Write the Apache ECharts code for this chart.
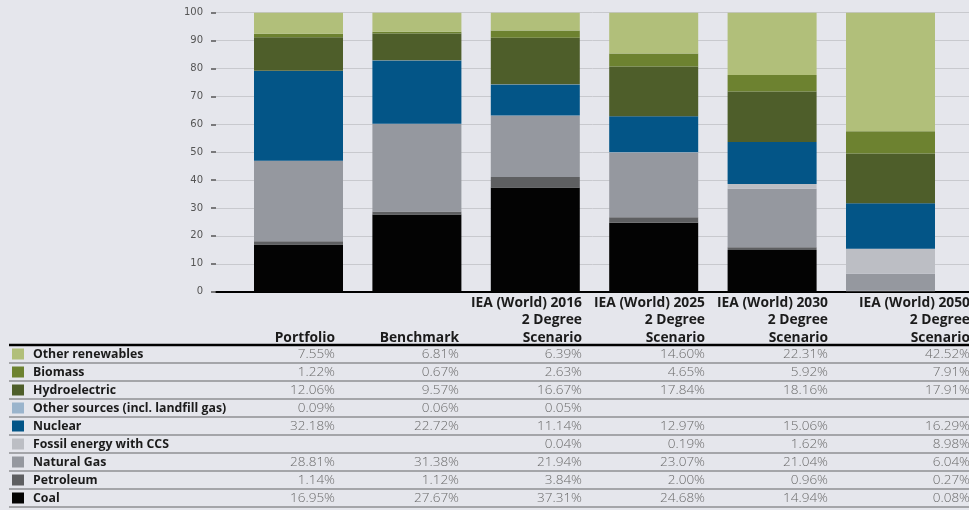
<!DOCTYPE html>
<html>
<head>
<meta charset="utf-8">
<script src="https://cdn.jsdelivr.net/npm/echarts@6/dist/echarts.min.js"></script>
<style>
html,body{margin:0;padding:0;background:#e5e6ec;}
#chart{width:969px;height:510px;}
</style>
</head>
<body>
<div id="chart"></div>
<script>
// ---- Data ----
const categories = ['Portfolio', 'Benchmark', 'IEA (World) 2016\n2 Degree\nScenario', 'IEA (World) 2025\n2 Degree\nScenario', 'IEA (World) 2030\n2 Degree\nScenario', 'IEA (World) 2050\n2 Degree\nScenario'];
const seriesNames = ['Other renewables', 'Biomass', 'Hydroelectric', 'Other sources (incl. landfill gas)', 'Nuclear', 'Fossil energy with CCS', 'Natural Gas', 'Petroleum', 'Coal'];
const otherRenewables = [7.55, 6.81, 6.39, 14.60, 22.31, 42.52];
const biomass = [1.22, 0.67, 2.63, 4.65, 5.92, 7.91];
const hydroelectric = [12.06, 9.57, 16.67, 17.84, 18.16, 17.91];
const otherSources = [0.09, 0.06, 0.05, null, null, null];
const nuclear = [32.18, 22.72, 11.14, 12.97, 15.06, 16.29];
const fossilCCS = [null, null, 0.04, 0.19, 1.62, 8.98];
const naturalGas = [28.81, 31.38, 21.94, 23.07, 21.04, 6.04];
const petroleum = [1.14, 1.12, 3.84, 2.00, 0.96, 0.27];
const coal = [16.95, 27.67, 37.31, 24.68, 14.94, 0.08];
const yTickValues = [0, 10, 20, 30, 40, 50, 60, 70, 80, 90, 100];

// table rows in legend order
const rows = [otherRenewables, biomass, hydroelectric, otherSources, nuclear, fossilCCS, naturalGas, petroleum, coal];
const colors = ['#b1bf7a', '#6d8230', '#4e5e2a', '#9ab4cc', '#035587', '#bcbec4', '#95989f', '#5e5f61', '#030303'];

// ---- Layout ----
const FONT = '"Open Sans", Lato, sans-serif';
const plotTop = 12.7, plotH = 279;
const colRight = [335, 459, 582, 705, 828, 970];
const rowY0 = 354, rowH = 18;

const chart = echarts.init(document.getElementById('chart'), null, {renderer: 'canvas'});

// stacking from bottom: reverse of legend order
const series = [];
for (let k = rows.length - 1; k >= 0; k--) {
  series.push({
    name: seriesNames[k],
    type: 'bar',
    stack: 'total',
    xAxisIndex: 1,
    yAxisIndex: 1,
    barWidth: 89,
    itemStyle: {color: colors[k]},
    emphasis: {disabled: true},
    data: rows[k]
  });
}

const graphics = [];
// header line
graphics.push({type: 'line', shape: {x1: 9, y1: 345, x2: 969, y2: 345}, style: {stroke: '#000', lineWidth: 2.5}, silent: true});
// row separators
for (let i = 0; i < rows.length; i++) {
  const y = 363 + rowH * i;
  graphics.push({type: 'line', shape: {x1: 9, y1: y, x2: 969, y2: y}, style: {stroke: '#a4a5a9', lineWidth: 2}, silent: true});
}
// column headers
categories.forEach((c, j) => {
  graphics.push({
    type: 'text', x: colRight[j], y: 347, silent: true,
    style: {text: c, align: 'right', verticalAlign: 'bottom', font: 'bold 13.8px ' + FONT, lineHeight: 17.7, fill: '#1b1b1b'}
  });
});
// values
rows.forEach((r, i) => {
  r.forEach((v, j) => {
    if (v === null) return;
    graphics.push({
      type: 'text', x: colRight[j], y: rowY0 + rowH * i, silent: true,
      style: {text: v.toFixed(2) + '%', align: 'right', verticalAlign: 'middle', font: '300 13.5px ' + FONT, fill: '#6a6a6a'}
    });
  });
});

const option = {
  backgroundColor: '#e5e6ec',
  animation: false,
  legend: {
    orient: 'vertical',
    left: 12,
    top: rowY0 - 6.5,
    padding: 0,
    itemGap: 5,
    itemWidth: 12,
    itemHeight: 11,
    icon: 'rect',
    selectedMode: false,
    data: seriesNames,
    textStyle: {fontFamily: FONT, fontWeight: 'bold', fontSize: 12.3, lineHeight: 13, color: '#1b1b1b', padding: [0, 0, 0, 4]}
  },
  grid: [
    {left: 216, right: 0, top: plotTop, height: plotH},
    {left: 239.3, right: 19.3, top: plotTop, height: plotH}
  ],
  xAxis: [
    {gridIndex: 0, type: 'value', min: 0, max: 1, axisLine: {show: true, lineStyle: {color: '#000', width: 2}}, axisTick: {show: false}, axisLabel: {show: false}, splitLine: {show: false}},
    {gridIndex: 1, type: 'category', data: categories, show: false}
  ],
  yAxis: [
    {gridIndex: 0, type: 'value', min: yTickValues[0], max: yTickValues[yTickValues.length - 1], interval: yTickValues[1] - yTickValues[0], offset: 3,
     axisLine: {show: false}, axisTick: {show: true, length: 5, lineStyle: {color: '#555', width: 1.5}},
     axisLabel: {margin: 10, fontSize: 10, color: '#555', fontFamily: 'DejaVu Sans, sans-serif'},
     splitLine: {show: true, lineStyle: {color: '#c8c9ce', width: 1}}},
    {gridIndex: 1, type: 'value', min: 0, max: 100, show: false, splitLine: {show: false}}
  ],
  series: series,
  graphic: graphics
};
chart.setOption(option);
</script>
</body>
</html>
